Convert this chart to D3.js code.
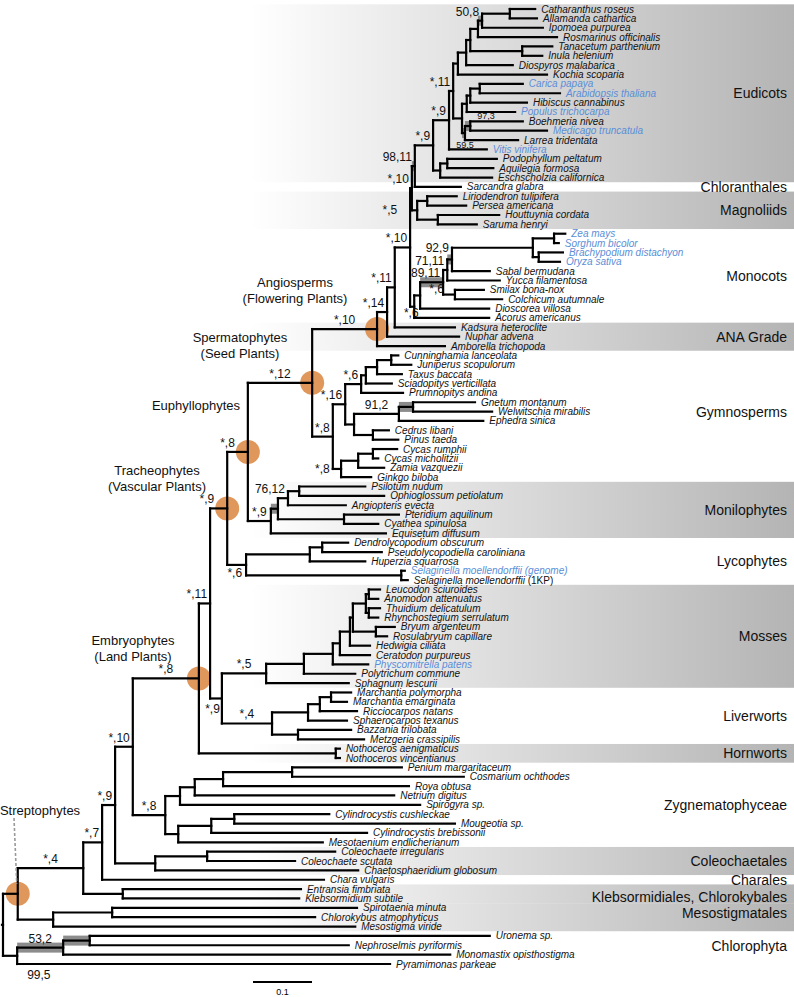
<!DOCTYPE html>
<html><head><meta charset="utf-8">
<script src="https://cdn.jsdelivr.net/npm/d3@7"></script>
<style>body{margin:0;background:#fff}svg{display:block}text{font-family:"Liberation Sans",Arial,Helvetica,sans-serif}</style>
</head><body><svg id="c" width="794" height="997"></svg>
<script>
// ---------- DATA ----------
// leaves in display order: [name, parent node, depth (subst./site), highlighted genome]
const leaves = [
["Catharanthus roseus","S1",0.902],["Allamanda cathartica","S1",0.905],["Ipomoea purpurea","S2",0.915],
["Rosmarinus officinalis","S3",0.939],["Tanacetum parthenium","S4",0.931],["Inula helenium","S4",0.914],
["Diospyros malabarica","S6",0.864],["Kochia scoparia","S7",0.922],["Carica papaya","R1",0.881,1],
["Arabidopsis thaliana","R1",0.944,1],["Hibiscus cannabinus","R2",0.888],["Populus trichocarpa","R3",0.868,1],
["Boehmeria nivea","R4",0.881],["Medicago truncatula","R4",0.922,1],["Larrea tridentata","R5",0.873],
["Vitis vinifera","B",0.820,1],["Podophyllum peltatum","ran1",0.837],["Aquilegia formosa","ran1",0.831],
["Eschscholzia californica","ran",0.829],["Sarcandra glabra","D",0.776],["Liriodendron tulipifera","mag1",0.769],
["Persea americana","mag1",0.785],["Houttuynia cordata","mag2",0.841],["Saruma henryi","mag2",0.803],
["Zea mays","g1",0.953,1],["Sorghum bicolor","g1",0.942,1],["Brachypodium distachyon","g2",0.949,1],
["Oryza sativa","g2",0.944,1],["Sabal bermudana","M1",0.825],["Yucca filamentosa","M2",0.842],
["Smilax bona-nox","lil",0.815],["Colchicum autumnale","lil",0.846],["Dioscorea villosa","MA",0.824],
["Acorus americanus","MR",0.824],["Kadsura heteroclite","n3",0.766],["Nuphar advena","n2",0.773],
["Amborella trichopoda","angio",0.749],["Cunninghamia lanceolata","c4",0.670],["Juniperus scopulorum","c4",0.692],
["Taxus baccata","c3",0.676],["Sciadopitys verticillata","c2",0.659],["Prumnopitys andina","c1",0.678],
["Gnetum montanum","gnet1",0.800],["Welwitschia mirabilis","gnet1",0.829],["Ephedra sinica","gnet",0.814],
["Cedrus libani","pinac",0.654],["Pinus taeda","pinac",0.670],["Cycas rumphii","cycas",0.668],
["Cycas micholitzii","cycas",0.636],["Zamia vazquezii","cyc",0.646],["Ginkgo biloba","cyg",0.624],
["Psilotum nudum","f2",0.614],["Ophioglossum petiolatum","f2",0.646],["Angiopteris evecta","f1",0.581],
["Pteridium aquilinum","f3",0.671],["Cyathea spinulosa","f3",0.636],["Equisetum diffusum","monil",0.649],
["Dendrolycopodium obscurum","lyco2",0.585],["Pseudolycopodiella caroliniana","lyco2",0.642],["Huperzia squarrosa","lyco1",0.614],
["Selaginella moellendorffii (genome)","selag",0.681,1],["Selaginella moellendorffii (1KP)","selag",0.686],
["Leucodon sciuroides","hyp1",0.639],["Anomodon attenuatus","hyp1",0.636],["Thuidium delicatulum","hyp2",0.639],
["Rhynchostegium serrulatum","hyp2",0.636],["Bryum argenteum","bry",0.664],["Rosulabryum capillare","bry",0.651],
["Hedwigia ciliata","m4",0.622],["Ceratodon purpureus","m3",0.622],["Physcomitrella patens","m2",0.619,1],
["Polytrichum commune","m1",0.597],["Sphagnum lescurii","moss",0.586],["Marchantia polymorpha","l3",0.590],
["Marchantia emarginata","l3",0.583],["Ricciocarpos natans","l2",0.600],["Sphaerocarpos texanus","l1",0.583],
["Bazzania trilobata","l4",0.590],["Metzgeria crassipilis","l4",0.612],["Nothoceros aenigmaticus","hornw",0.571],
["Nothoceros vincentianus","hornw",0.571],["Penium margaritaceum","z4",0.676],["Cosmarium ochthodes","z4",0.781],
["Roya obtusa","z3",0.688],["Netrium digitus","z2",0.663],["Spirogyra sp.","z1",0.707],
["Cylindrocystis cushleckae","z7",0.553],["Mougeotia sp.","z7",0.766],["Cylindrocystis brebissonii","z6",0.617],
["Mesotaenium endlicherianum","z5",0.542],["Coleochaete irregularis","coleo1",0.563],["Coleochaete scutata","coleo1",0.495],
["Chaetosphaeridium globosum","coleo",0.602],["Chara vulgaris","s7",0.544],["Entransia fimbriata","kleb",0.505],
["Klebsormidium subtile","kleb",0.502],["Spirotaenia minuta","meso1",0.600],["Chlorokybus atmophyticus","meso1",0.529],
["Mesostigma viride","meso",0.597],["Uronema sp.","chB",0.825],["Nephroselmis pyriformis","chB",0.586],
["Monomastix opisthostigma","chA",0.758],["Pyramimonas parkeae","chloro",0.656]
];
// internal nodes: [id, parent, depth, support (bootstrap,gene-tree count)]
const nodes = [
["root","",0,""],["chloro","root",0.024,"99,5"],["chA","chloro",0.102,"53,2"],["chB","chA",0.147,""],
["strep","root",0.025,""],["meso","strep",0.085,""],["meso1","meso",0.185,""],["s4","strep",0.136,"*,4"],
["kleb","s4",0.203,""],["s7","s4",0.168,"*,7"],["s9","s7",0.190,"*,9"],["coleo","s9",0.258,""],
["coleo1","coleo",0.346,""],["x10","s9",0.220,"*,10"],["zyg","x10",0.275,"*,8"],["z1","zyg",0.300,""],
["z2","z1",0.325,""],["z3","z2",0.373,""],["z4","z3",0.490,""],["z5","zyg",0.297,""],["z6","z5",0.353,""],
["z7","z6",0.392,""],["embryo","x10",0.332,"*,8"],["hornw","embryo",0.564,""],["n11","embryo",0.351,"*,11"],
["seta","n11",0.371,"*,9"],["moss","seta",0.446,"*,5"],["m1","moss",0.510,""],["m2","m1",0.559,""],
["m3","m2",0.571,""],["m4","m3",0.588,""],["m5","m4",0.593,""],["hyp","m5",0.615,""],["hyp1","hyp",0.620,""],
["hyp2","hyp",0.620,""],["bry","m5",0.632,""],["liver","seta",0.456,"*,4"],["l1","liver",0.517,""],
["l2","l1",0.537,""],["l3","l2",0.556,""],["l4","liver",0.500,""],["trach","n11",0.380,"*,9"],
["lyco","trach",0.412,"*,6"],["lyco1","lyco",0.520,""],["lyco2","lyco1",0.541,""],["selag","lyco",0.675,""],
["euphyl","trach",0.415,"*,8"],["monil","euphyl",0.454,"*,9"],["fern","monil",0.466,""],["f1","fern",0.483,"76,12"],
["f2","f1",0.502,""],["f3","fern",0.578,""],["sperm","euphyl",0.524,"*,12"],["gymno","sperm",0.559,"*,8"],
["conif","gymno",0.580,"*,16"],["c1","conif",0.607,"*,6"],["c2","c1",0.615,""],["c3","c2",0.634,""],
["c4","c3",0.658,""],["gp","conif",0.595,""],["gnet","gp",0.671,"91,2"],["gnet1","gnet",0.695,""],
["pinac","gp",0.627,""],["cyg","gymno",0.573,"*,8"],["cyc","cyg",0.602,""],["cycas","cyc",0.627,""],
["angio","sperm",0.634,"*,10"],["n2","angio",0.651,"*,14"],["n3","n2",0.664,"*,11"],["n4","n3",0.690,"*,10"],
["E","n4",0.693,"*,10"],["D","E",0.698,"98,11"],["C","D",0.729,"*,9"],["B","C",0.756,"*,9"],
["A","B",0.763,"*,11"],["S7","A",0.771,""],["S6","S7",0.785,""],["S5","S6",0.792,""],["S3","S5",0.805,""],
["S2","S3",0.812,"50,8"],["S1","S2",0.859,""],["S4","S5",0.880,""],["R6","A",0.778,""],["R3","R6",0.786,""],
["R2","R3",0.792,""],["R1","R2",0.808,""],["R5","R6",0.783,"59,5"],["R4","R5",0.792,"97,3"],
["ran","C",0.741,""],["ran1","ran",0.753,""],["mag","E",0.702,"*,5"],["mag1","mag",0.719,""],
["mag2","mag",0.737,""],["MR","n4",0.697,"*,6"],["MA","MR",0.707,"*,6"],["M3","MA",0.746,"89,11"],
["lil","M3",0.766,""],["M2","M3",0.753,"71,11"],["M1","M2",0.761,"92,9"],["grass","M1",0.898,""],
["g1","grass",0.934,""],["g2","grass",0.908,""]
];
// clades on the right: [name, first leaf, last leaf, shaded band]
const clades = [
["Eudicots",0,18,1],["Chloranthales",19,19,0],["Magnoliids",20,23,1],["Monocots",24,33,0],
["ANA Grade",34,36,1],["Gymnosperms",37,50,0],["Monilophytes",51,56,1],["Lycophytes",57,61,0],
["Mosses",62,72,1],["Liverworts",73,78,0],["Hornworts",79,80,1],["Zygnematophyceae",81,89,0],
["Coleochaetales",90,92,1],["Charales",93,93,0],["Klebsormidiales, Chlorokybales",94,95,1],
["Mesostigmatales",96,98,1],["Chlorophyta",99,102,0]
];
// named major groups (orange circles)
const majorNodes = ["strep","embryo","trach","euphyl","sperm","angio"];
const majorNames = [["Streptophytes"],["Embryophytes","(Land Plants)"],["Tracheophytes","(Vascular Plants)"],
  ["Euphyllophytes"],["Spermatophytes","(Seed Plants)"],["Angiosperms","(Flowering Plants)"]];
// branches highlighted in grey
const greyBranches = ["chA","chB","gnet1","fern","M1","M3","S2","R4","R5","D"];
const scaleBarValue = 0.1;

// ---------- LAYOUT ----------
const W = 794, H = 997;
const svg = d3.select("#c");
const x = d3.scaleLinear().domain([0, 1]).range([3, 593]);
const yLeaf = d3.scaleLinear().domain([0, leaves.length - 1]).range([9, 964]);
const rows = nodes.map(d => ({id: d[0], parent: d[1], depth: d[2], support: d[3]}))
  .concat(leaves.map((d, i) => ({id: d[0], parent: d[1], depth: d[2], blue: !!d[3], idx: i, leaf: true})));
const root = d3.stratify().id(d => d.id).parentId(d => d.parent || null)(rows);
root.eachAfter(n => {
  n.px = x(n.data.depth);
  if (n.data.leaf) n.py = yLeaf(n.data.idx);
  else { const ys = n.children.map(c => c.py); n.py = (d3.min(ys) + d3.max(ys)) / 2; }
});
const byId = new Map(root.descendants().map(n => [n.data.id, n]));

// bands
const defs = svg.append("defs");
const gr = defs.append("linearGradient").attr("id", "band").attr("gradientUnits", "userSpaceOnUse")
  .attr("x1", 250).attr("x2", W).attr("y1", 0).attr("y2", 0);
gr.append("stop").attr("offset", 0).attr("stop-color", "#ffffff");
gr.append("stop").attr("offset", 1).attr("stop-color", "#b4b4b4");
const step = yLeaf(1) - yLeaf(0);
svg.append("g").selectAll("rect").data(clades.filter(c => c[3])).join("rect")
  .attr("x", 250).attr("width", W - 250)
  .attr("y", c => yLeaf(c[1]) - step / 2).attr("height", c => yLeaf(c[2]) - yLeaf(c[1]) + step)
  .attr("fill", "url(#band)");

// orange circles
svg.append("g").selectAll("circle").data(majorNodes.map(id => byId.get(id))).join("circle")
  .attr("cx", n => n.px).attr("cy", n => n.py).attr("r", 12).attr("fill", "#e0975b");

// grey branch highlights
svg.append("g").selectAll("rect").data(greyBranches.map(id => byId.get(id))).join("rect")
  .attr("x", n => n.parent.px).attr("width", n => Math.max(3, n.px - n.parent.px))
  .attr("y", n => n.py - 5).attr("height", 10).attr("fill", "#8c8c8c");

// branches
const g = svg.append("g").attr("fill", "none").attr("stroke", "#000").attr("stroke-width", 2.2).attr("stroke-linecap", "square");
root.descendants().forEach(n => {
  if (n.parent) g.append("path").attr("d", `M${n.parent.px},${n.py}H${n.px}`);
  if (n.children) {
    const ys = n.children.map(c => c.py);
    g.append("path").attr("d", `M${n.px},${d3.min(ys)}V${d3.max(ys)}`);
  }
});
g.append("path").attr("d", `M${root.px},${root.py}H${root.px - 1}`);

// leaf labels
const lt = svg.append("g").attr("font-size", 10).attr("font-style", "italic");
root.leaves().forEach(n => {
  const t = lt.append("text").attr("x", n.px + 6).attr("y", n.py + 3.5).attr("fill", n.data.blue ? "#5a8ed8" : "#111");
  const m = n.data.id.match(/^(.*) (\(1KP\))$/);
  if (m) { t.append("tspan").text(m[1] + " "); t.append("tspan").attr("font-style", "normal").text(m[2]); }
  else t.text(n.data.id);
});

// support labels
const over = {
  chloro: {a: "start", dx: 10, dy: 23}, seta: {a: "end", dx: -2, dy: 15}, lyco: {a: "end", dx: -4, dy: 12},
  cyg: {a: "end", par: -3, dy: 4}, mag: {a: "end", dx: -20, dy: 4},
  MA: {a: "middle", dx: 16.5, dy: -2}, MR: {a: "middle", dx: -3, dy: 10.5},
  M1: {a: "end", dx: -3, dy: -7.5},
  R4: {a: "start", dx: 7, dy: -7, fs: 9}, R5: {a: "middle", dx: 0, dy: 15, fs: 9}
};
const sl = svg.append("g").attr("font-size", 12).attr("fill", "#111");
root.descendants().filter(n => n.data.support).forEach(n => {
  const o = over[n.data.id];
  const t = sl.append("text").text(n.data.support);
  if (o) {
    if (o.fs) t.attr("font-size", o.fs);
    t.attr("text-anchor", o.a).attr("x", o.par !== undefined ? n.parent.px + o.par : n.px + o.dx).attr("y", n.py + o.dy);
  } else {
    const w = t.node().getComputedTextLength();
    const gap = majorNodes.includes(n.data.id) ? 13 : 3;
    const cx = Math.min((n.parent.px + n.px) / 2, n.px - gap - w / 2);
    t.attr("text-anchor", "middle").attr("x", cx).attr("y", n.py - 5);
  }
});

// major group names
const namePos = [[40, 810], [133, 640], [157, 470], [196, 405], [240, 337], [295, 282]];
const mt = svg.append("g").attr("font-size", 13).attr("text-anchor", "middle").attr("fill", "#111");
majorNames.forEach((lines, i) => lines.forEach((s, j) =>
  mt.append("text").attr("x", namePos[i][0]).attr("y", namePos[i][1] + 4.5 + j * 16).text(s)));
const sn = byId.get("strep");
svg.append("path").attr("d", `M14,818L${sn.px - 1},${sn.py - 10}`).attr("stroke", "#999")
  .attr("stroke-width", 1.6).attr("stroke-dasharray", "3,2").attr("fill", "none");

// clade names
const cdy = {"Gymnosperms": -4, "Klebsormidiales, Chlorokybales": 3, "Mesostigmatales": -4, "Chlorophyta": -4};
svg.append("g").attr("font-size", 14).attr("text-anchor", "end").attr("fill", "#111")
  .selectAll("text").data(clades).join("text").attr("x", 787)
  .attr("y", c => (yLeaf(c[1]) + yLeaf(c[2])) / 2 + 5 + (cdy[c[0]] || 0)).text(c => c[0]);

// scale bar
const sb = 253, sy = 982;
svg.append("path").attr("d", `M${sb},${sy}H${sb + x(scaleBarValue) - x(0)}`).attr("stroke", "#000").attr("stroke-width", 2);
svg.append("text").attr("x", sb + (x(scaleBarValue) - x(0)) / 2).attr("y", sy + 13).attr("font-size", 9)
  .attr("text-anchor", "middle").text(String(scaleBarValue));
</script></body></html>
